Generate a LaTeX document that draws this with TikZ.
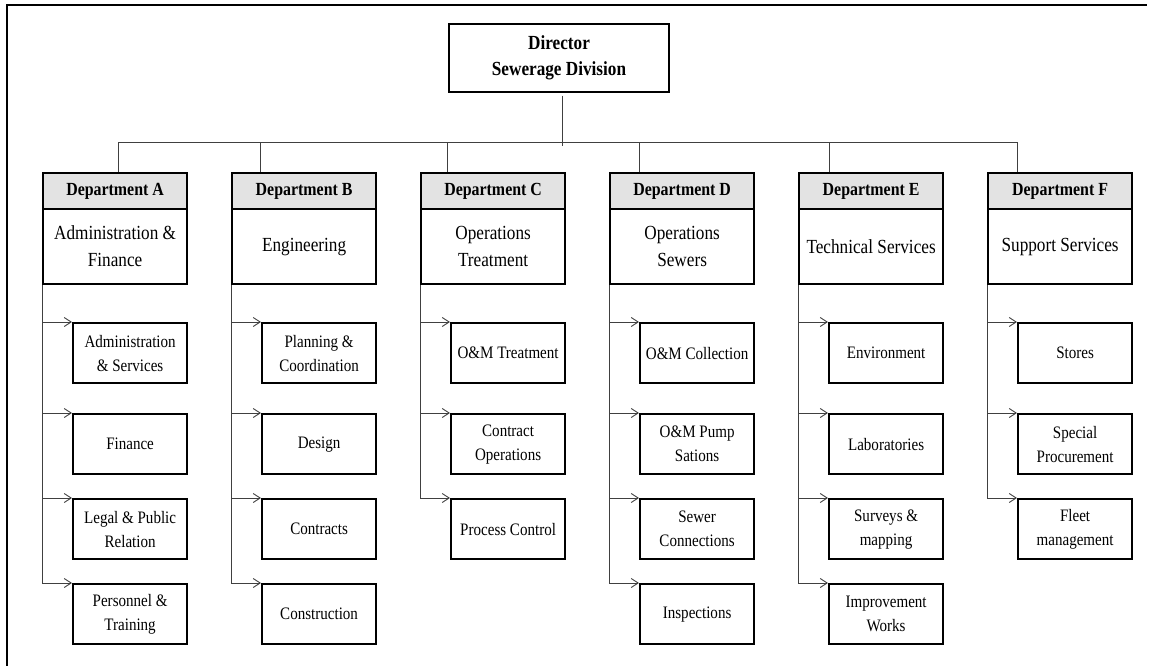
\documentclass[tikz,border=0pt]{standalone}
\usepackage{fontspec}
\setmainfont{Liberation Serif}[FakeStretch=0.86]
\usetikzlibrary{arrows.meta}
\definecolor{headgray}{gray}{0.89}
\begin{document}
\begin{tikzpicture}[x=1pt,y=-1pt,
  frame/.style={line width=2.4pt},
  dirbox/.style={draw, line width=1.2pt, minimum width=220pt, minimum height=68pt,
    align=center, font=\fontsize{20}{26}\selectfont\bfseries},
  depthead/.style={draw, line width=2.2pt, fill=headgray, minimum width=144pt,
    minimum height=36pt, anchor=north west, font=\fontsize{18.5}{22}\selectfont\bfseries},
  deptbody/.style={draw, line width=2.2pt, minimum width=144pt, minimum height=75pt,
    anchor=north west, align=center, inner sep=1pt, font=\fontsize{20}{27}\selectfont},
  unitbox/.style={draw, line width=2.2pt, minimum width=114pt, minimum height=60pt,
    anchor=north west, align=center, inner sep=1pt, font=\fontsize{17.5}{24}\selectfont},
  link/.style={draw=black!75, line width=0.9pt},
  feed/.style={link, -{Straight Barb[length=7pt,width=9pt]}}]

\useasboundingbox (0,0) rectangle (1153,666);

% page frame
\draw[frame] (7,666) -- (7,5) -- (1147,5);

% director
\node[dirbox] (dir) at (559,58) {Director\\Sewerage Division};

% departments: header and body
\node[depthead] (hA) at (42,172)  {Department A};
\node[deptbody] (bA) at (42,208)  {Administration \&\\Finance};
\node[depthead] (hB) at (231,172) {Department B};
\node[deptbody] (bB) at (231,208) {Engineering};
\node[depthead] (hC) at (420,172) {Department C};
\node[deptbody] (bC) at (420,208) {Operations\\Treatment};
\node[depthead] (hD) at (609,172) {Department D};
\node[deptbody] (bD) at (609,208) {Operations\\Sewers};
\node[depthead] (hE) at (798,172) {Department E};
\node[deptbody] (bE) at (798,208) {Technical Services};
\node[depthead] (hF) at (987,172) {Department F};
\node[deptbody] (bF) at (987,208) {Support Services};

% junctions on the distribution bar
\coordinate (jA) at (118,142);
\coordinate (jB) at (260,142);
\coordinate (jC) at (447,142);
\coordinate (jD) at (639,142);
\coordinate (jE) at (829,142);
\coordinate (jF) at (1017,142);
\coordinate (drop) at (562,146);

\draw[link] ([xshift=3pt,yshift=-3pt]dir.south) -- (drop);
\draw[link] (jA) -- (jF);
\foreach \d in {A,B,C,D,E,F}
  \draw[link] (j\d) -- (j\d |- h\d.north);

% units of department A
\node[unitbox] (a1) at (72,322) {Administration\\\& Services};
\node[unitbox] (a2) at (72,413) {Finance};
\node[unitbox] (a3) at (72,498) {Legal \& Public\\Relation};
\node[unitbox] (a4) at (72,583) {Personnel \&\\Training};

% units of department B
\node[unitbox] (b1) at (261,322) {Planning \&\\Coordination};
\node[unitbox] (b2) at (261,413) {Design};
\node[unitbox] (b3) at (261,498) {Contracts};
\node[unitbox] (b4) at (261,583) {Construction};

% units of department C
\node[unitbox] (c1) at (450,322) {O\&M Treatment};
\node[unitbox] (c2) at (450,413) {Contract\\Operations};
\node[unitbox] (c3) at (450,498) {Process Control};

% units of department D
\node[unitbox] (d1) at (639,322) {O\&M Collection};
\node[unitbox] (d2) at (639,413) {O\&M Pump\\Sations};
\node[unitbox] (d3) at (639,498) {Sewer\\Connections};
\node[unitbox] (d4) at (639,583) {Inspections};

% units of department E
\node[unitbox] (e1) at (828,322) {Environment};
\node[unitbox] (e2) at (828,413) {Laboratories};
\node[unitbox] (e3) at (828,498) {Surveys \&\\mapping};
\node[unitbox] (e4) at (828,583) {Improvement\\Works};

% units of department F
\node[unitbox] (f1) at (1017,322) {Stores};
\node[unitbox] (f2) at (1017,413) {Special\\Procurement};
\node[unitbox] (f3) at (1017,498) {Fleet\\management};

% feeders from each department down to its units
\foreach \u in {a1,a2,a3,a4} \draw[feed] (bA.south west) |- (\u.north west);
\foreach \u in {b1,b2,b3,b4} \draw[feed] (bB.south west) |- (\u.north west);
\foreach \u in {c1,c2,c3}    \draw[feed] (bC.south west) |- (\u.north west);
\foreach \u in {d1,d2,d3,d4} \draw[feed] (bD.south west) |- (\u.north west);
\foreach \u in {e1,e2,e3,e4} \draw[feed] (bE.south west) |- (\u.north west);
\foreach \u in {f1,f2,f3}    \draw[feed] (bF.south west) |- (\u.north west);
\end{tikzpicture}
\end{document}
